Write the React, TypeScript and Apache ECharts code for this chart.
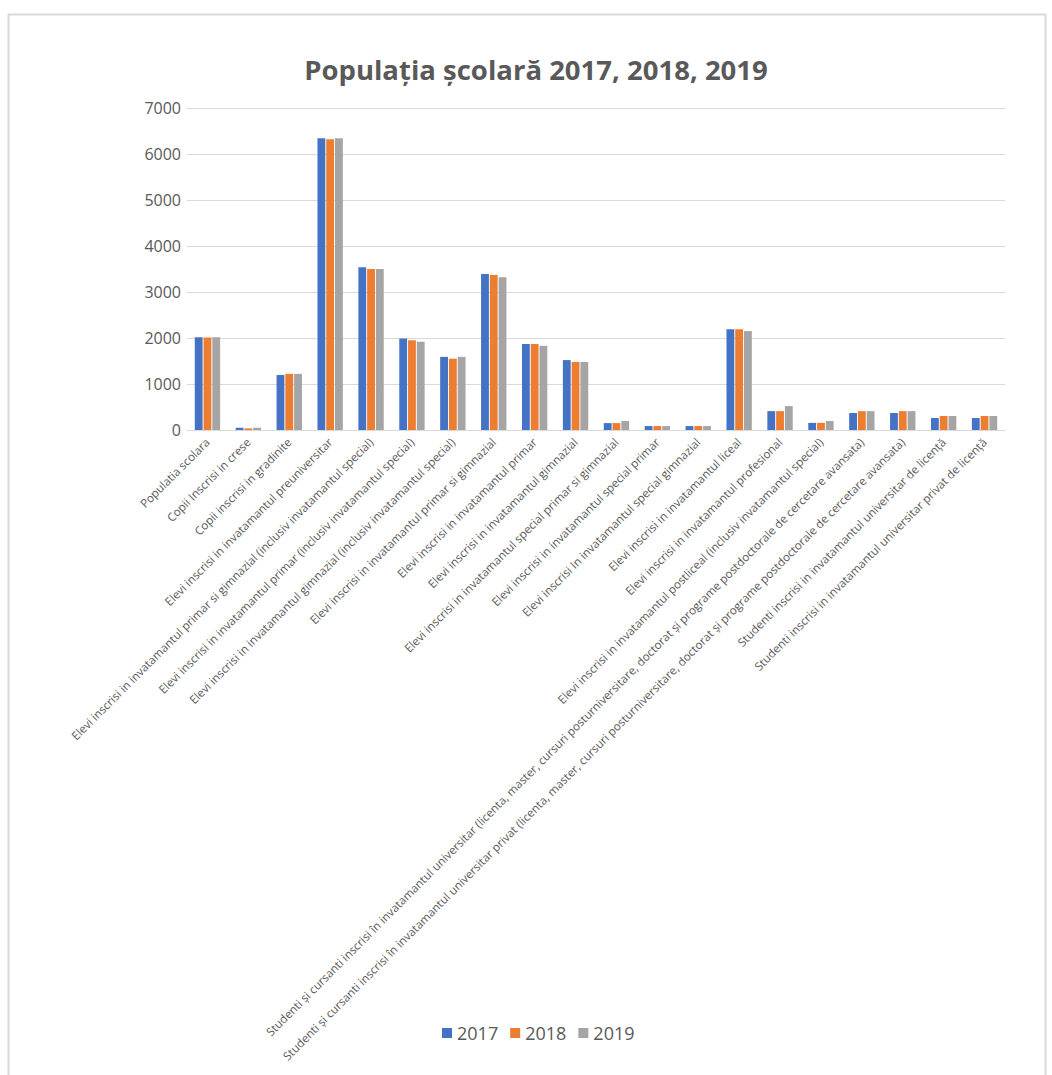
import React, { useEffect, useRef } from "react";
import * as echarts from "echarts";

const categories: string[] = [
  "Populatia scolara",
  "Copii Inscrisi in crese",
  "Copii inscrisi in gradinite",
  "Elevi inscrisi in invatamantul preuniversitar",
  "Elevi inscrisi in invatamantul primar si gimnazial (inclusiv invatamantul special)",
  "Elevi inscrisi in invatamantul primar (inclusiv invatamantul special)",
  "Elevi inscrisi in invatamantul gimnazial (inclusiv invatamantul special)",
  "Elevi inscrisi in invatamantul primar si gimnazial",
  "Elevi inscrisi in invatamantul primar",
  "Elevi inscrisi in invatamantul gimnazial",
  "Elevi inscrisi in invatamantul special primar si gimnazial",
  "Elevi inscrisi in invatamantul special primar",
  "Elevi inscrisi In invatamantul special gimnazial",
  "Elevi inscrisi in invatamantul liceal",
  "Elevi inscrisi in invatamantul profesional",
  "Elevi inscrisi in invatamantul postliceal (inclusiv invatamantul special)",
  "Studenti și cursanti inscrisi în invatamantul universitar (licenta, master, cursuri posturniversitare, doctorat și programe postdoctorale de cercetare avansata)",
  "Studenti și cursanti inscrisi în invatamantul universitar privat (licenta, master, cursuri posturniversitare, doctorat și programe postdoctorale de cercetare avansata)",
  "Studenti inscrisi in invatamantul universitar de licență",
  "Studenti inscrisi in invatamantul universitar privat de licență",
];

const values2017: number[] = [2015, 50, 1195, 6340, 3540, 1990, 1590, 3390, 1870, 1520, 150, 85, 85, 2190, 410, 155, 370, 370, 260, 260];
const values2018: number[] = [2013, 35, 1220, 6320, 3500, 1950, 1550, 3370, 1870, 1480, 150, 85, 85, 2190, 410, 155, 410, 410, 305, 305];
const values2019: number[] = [2015, 50, 1220, 6340, 3500, 1920, 1590, 3320, 1830, 1480, 195, 85, 85, 2150, 520, 195, 410, 410, 305, 305];

const seriesNames: string[] = ["2017", "2018", "2019"];
const seriesColors: string[] = ["#4472c4", "#ed7d31", "#a5a5a5"];
const titleText = "Populația școlară 2017, 2018, 2019";

const FONT = "'Open Sans', sans-serif";

export default function App() {
  const ref = useRef<HTMLDivElement>(null);
  useEffect(() => {
    if (!ref.current) return;
    const chart = echarts.init(ref.current, undefined, { renderer: "svg" });
    const data = [values2017, values2018, values2019];
    chart.setOption({
      animation: false,
      backgroundColor: "#ffffff",
      textStyle: { fontFamily: FONT },
      title: {
        text: titleText,
        left: 531,
        textAlign: "center",
        top: 50,
        textStyle: { fontSize: 27.5, fontWeight: "bold", color: "#595959", fontFamily: FONT },
      },
      graphic: [
        {
          type: "rect",
          shape: { x: 8.5, y: 14.5, width: 1037, height: 1080 },
          style: { fill: "none", stroke: "#d9d9d9", lineWidth: 2 },
          silent: true,
        },
      ],
      legend: {
        data: seriesNames,
        bottom: 28,
        left: 437,
        itemWidth: 10,
        itemHeight: 10,
        itemGap: 12,
        icon: "rect",
        textStyle: { fontSize: 18, color: "#595959", fontFamily: FONT },
      },
      grid: { left: 187, right: 47, top: 108, height: 322 },
      xAxis: {
        type: "category",
        data: categories,
        axisLine: { show: true, lineStyle: { color: "#d9d9d9", width: 1 } },
        axisTick: { show: false },
        axisLabel: {
          rotate: 45,
          interval: 0,
          fontSize: 11.6,
          color: "#595959",
          margin: 10,
          fontFamily: FONT,
        },
      },
      yAxis: {
        type: "value",
        min: 0,
        max: 7000,
        interval: 1000,
        axisLine: { show: false },
        axisTick: { show: false },
        splitLine: { lineStyle: { color: "#d9d9d9", width: 1 } },
        axisLabel: {
          fontSize: 16,
          color: "#595959",
          margin: 6,
          fontFamily: FONT,
          formatter: (v: number) => String(v),
        },
      },
      series: seriesNames.map((name, i) => ({
        name,
        type: "bar",
        data: data[i],
        itemStyle: { color: seriesColors[i] },
        barGap: "12%",
        barCategoryGap: "38%",
      })),
    });
    return () => chart.dispose();
  }, []);
  return (
    <div
      ref={ref}
      style={{ position: "fixed", left: 0, top: 0, width: 1052, height: 1075 }}
    />
  );
}
